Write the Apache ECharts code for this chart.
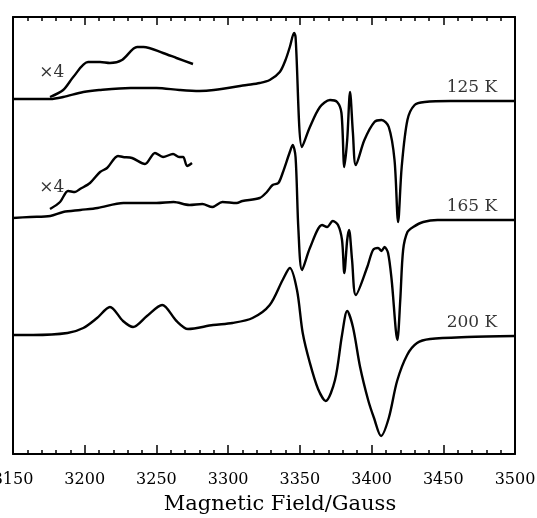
<!DOCTYPE html>
<html>
<head>
<meta charset="utf-8">
<script src="https://cdn.jsdelivr.net/npm/echarts@6/dist/echarts.min.js"></script>
<style>
  html, body { margin: 0; padding: 0; background: #fff; }
  #main { width: 537px; height: 518px; }
</style>
</head>
<body>
<div id="main"></div>
<script>
// field axis ticks (Gauss)
var fieldMin = 3150, fieldMax = 3500, fieldStep = 50, fieldMinorStep = 10;

// 125 K spectrum (signal relative to its baseline, arb. units)
var field125 = [3150,3162,3176,3185,3199,3210,3232,3250,3266,3280,3290,3313,3322,3329,3336,3340,3343,3346,3347,3351.5,3357,3364,3371,3376,3379,3381,3383,3385,3387,3389,3395,3402,3407,3412,3416,3418.5,3421,3425,3430,3437,3455,3500];
var signal125 = [0,0,0,2,7,9,11,11,9,8,9,14,16,19,27,39,52,66,62,-48,-28,-8,-1,-3,-14,-68,-41,7,-34,-66,-41,-23,-21,-28,-61,-123,-68,-21,-6,-3,-2,-2];
// 125 K, x4 expanded low-field part
var field125x4 = [3175.8,3185,3192,3202.3,3210.7,3217.6,3226,3236.5,3241,3254.6,3264,3275.5];
var signal125x4 = [2,9,22,37,37,36,39,52,52,46,41,35];

// 165 K spectrum
var field165 = [3150,3162,3176,3185,3197,3209,3227,3250,3262,3273,3282,3289,3296,3306,3310,3322,3327,3331,3335,3338,3343,3345,3347,3349,3351.5,3357,3365.5,3369,3373,3376.6,3379.4,3381,3383,3384.3,3386.4,3389,3397,3401,3404.5,3407,3409,3411.5,3414,3418,3420,3422,3425,3429,3436,3446,3500];
var signal165 = [0,1,2,6,8,10,15,15,16,13,14,11,16,15,17,20,26,33,35,45,66,73,61,-12,-52,-30,-7,-9,-3,-7,-22,-55,-22,-12,-42,-77,-49,-32,-30,-33,-29,-35,-62,-122,-82,-32,-14,-9,-4,-2,-2];
// 165 K, x4 expanded low-field part
var field165x4 = [3175.8,3182.8,3188.4,3193.2,3196.7,3203.7,3210.7,3215.6,3223.2,3226.7,3233,3242,3249,3254.6,3261.6,3265.8,3268.6,3271.4,3274.8];
var signal165x4 = [9,16,27,26,29,35,46,50,62,61,60,54,65,61,64,61,61,52,55];

// 200 K spectrum
var field200 = [3150,3164,3188,3199,3208.6,3217.6,3226.7,3233.7,3243.4,3254,3264,3272,3289.5,3303,3317,3329,3338,3343,3348,3352,3357,3362.7,3368,3374.5,3379.4,3383,3387,3392,3397.6,3401.7,3406.6,3412,3417.8,3424.8,3431.7,3440.8,3466.6,3500];
var signal200 = [0,0,2,7,17,28,14,8,19,30,14,6,10,12,17,30,55,67,45,2,-28,-54,-66,-45,0,24,8,-32,-65,-83,-101,-83,-46,-20,-8,-4,-2,-1];

// vertical offsets of the stacked traces
var offsets = { k125: 355, k165: 236, k200: 119 };

var labelTexts = ['125 K', '165 K', '200 K', '×4', '×4'];
var labelField = [3470, 3470, 3470, 3177, 3177];
var labelLevel = [366, 247, 131, 381, 266];

var serif = 'DejaVu Serif';
var box = { left: 13, right: 22, top: 17, bottom: 64, containLabel: false, outerBoundsMode: 'none' };

function pairs(xs, ys, off) {
    return xs.map(function (x, i) { return [x, ys[i] + off]; });
}

function trace(xs, ys, off) {
    return {
        type: 'line',
        data: pairs(xs, ys, off),
        showSymbol: false,
        smooth: 0.3,
        silent: true,
        lineStyle: { color: '#000', width: 2.4 }
    };
}

// field axis: major ticks on grid 0, minor ticks on an overlaid grid 1
function fieldAxis(grid, pos, step, tickLen, extra) {
    var ax = {
        type: 'value',
        gridIndex: grid,
        min: fieldMin,
        max: fieldMax,
        interval: step,
        position: pos,
        axisLine: { show: grid === 0, onZero: false, lineStyle: { color: '#000', width: 2 } },
        axisTick: { show: true, inside: true, length: tickLen, lineStyle: { color: '#000', width: 1.5 } },
        splitLine: { show: false },
        axisLabel: { show: false }
    };
    return Object.assign(ax, extra || {});
}

function levelAxis(grid, pos) {
    return {
        type: 'value',
        gridIndex: grid,
        min: 0,
        max: 437,
        position: pos,
        axisLine: { show: grid === 0, onZero: false, lineStyle: { color: '#000', width: 2 } },
        axisTick: { show: false },
        axisLabel: { show: false },
        splitLine: { show: false }
    };
}

var chart = echarts.init(document.getElementById('main'));

chart.setOption({
    animation: false,
    backgroundColor: '#fff',
    grid: [box, box],
    xAxis: [
        fieldAxis(0, 'bottom', fieldStep, 9, {
            name: 'Magnetic Field/Gauss',
            nameLocation: 'middle',
            nameGap: 40,
            nameTextStyle: { fontFamily: serif, fontSize: 21, color: '#000', padding: [0, 0, 0, 32] },
            axisLabel: {
                show: true, fontFamily: serif, fontSize: 16, color: '#000', margin: 18,
                formatter: function (v) { return String(v); }
            }
        }),
        fieldAxis(0, 'top', fieldStep, 8),
        fieldAxis(1, 'bottom', fieldMinorStep, 4),
        fieldAxis(1, 'top', fieldMinorStep, 4)
    ],
    yAxis: [levelAxis(0, 'left'), levelAxis(0, 'right'), levelAxis(1, 'left')],
    series: [
        trace(field125, signal125, offsets.k125),
        trace(field125x4, signal125x4, offsets.k125),
        trace(field165, signal165, offsets.k165),
        trace(field165x4, signal165x4, offsets.k165),
        trace(field200, signal200, offsets.k200),
        {
            type: 'scatter',
            symbolSize: 0,
            silent: true,
            data: labelTexts.map(function (t, i) { return [labelField[i], labelLevel[i], t]; }),
            label: {
                show: true,
                position: 'inside',
                formatter: function (p) { return p.data[2]; },
                fontFamily: serif,
                fontSize: 17,
                color: '#000'
            }
        }
    ]
});
</script>
</body>
</html>
